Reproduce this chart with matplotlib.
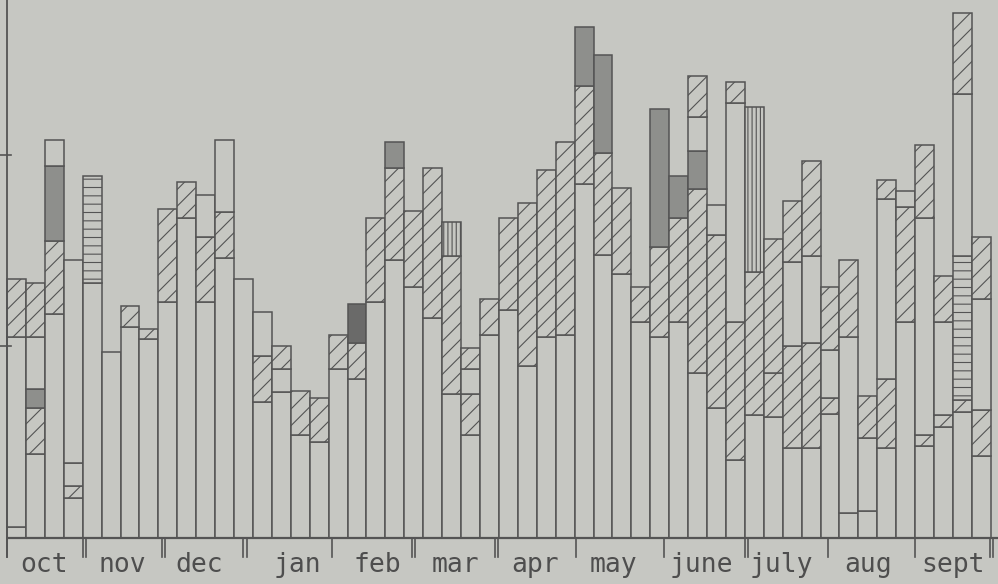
import matplotlib
matplotlib.use("Agg")
import matplotlib.pyplot as plt

# Weekly stacked records, October to September.
# Each week lists its segments bottom-to-top as (pattern, cumulative top).
# Patterns: P plain, H diagonal hatch, D stippled grey, K dark grey,
#           L horizontal rules, V vertical rules.
oct_weeks = [
    [("P", 0.6), ("P", 10.5), ("H", 13.5)],
    [("P", 4.4), ("H", 6.8), ("D", 7.8), ("P", 10.5), ("H", 13.3)],
    [("P", 11.7), ("H", 15.5), ("D", 19.4), ("P", 20.8)],
    [("P", 2.1), ("H", 2.7), ("P", 3.9), ("P", 14.5)],
]
nov_weeks = [
    [("P", 13.3), ("L", 18.9)],
    [("P", 9.7)],
    [("P", 11.0), ("H", 12.1)],
    [("P", 10.4), ("H", 10.9)],
]
dec_weeks = [
    [("P", 12.3), ("H", 17.2)],
    [("P", 16.7), ("H", 18.6)],
    [("P", 12.3), ("H", 15.7), ("P", 17.9)],
    [("P", 14.6), ("H", 17.0), ("P", 20.8)],
    [("P", 13.5)],
]
jan_weeks = [
    [("P", 7.1), ("H", 9.5), ("P", 11.8)],
    [("P", 7.6), ("P", 8.8), ("H", 10.0)],
    [("P", 5.4), ("H", 7.7)],
    [("P", 5.0), ("H", 7.3)],
]
feb_weeks = [
    [("P", 8.8), ("H", 10.6)],
    [("P", 8.3), ("H", 10.2), ("K", 12.2)],
    [("P", 12.3), ("H", 16.7)],
    [("P", 14.5), ("H", 19.3), ("D", 20.7)],
]
mar_weeks = [
    [("P", 13.1), ("H", 17.1)],
    [("P", 11.5), ("H", 19.3)],
    [("P", 7.5), ("H", 14.7), ("V", 16.5)],
    [("P", 5.4), ("H", 7.5), ("P", 8.8), ("H", 9.9)],
    [("P", 10.6), ("H", 12.5)],
]
apr_weeks = [
    [("P", 11.9), ("H", 16.7)],
    [("P", 9.0), ("H", 17.5)],
    [("P", 10.5), ("H", 19.2)],
    [("P", 10.6), ("H", 20.7)],
]
may_weeks = [
    [("P", 18.5), ("H", 23.6), ("D", 26.7)],
    [("P", 14.8), ("H", 20.1), ("D", 25.2)],
    [("P", 13.8), ("H", 18.3)],
    [("P", 11.3), ("H", 13.1)],
]
jun_weeks = [
    [("P", 10.5), ("H", 15.2), ("D", 22.4)],
    [("P", 11.3), ("H", 16.7), ("D", 18.9)],
    [("P", 8.6), ("H", 18.2), ("D", 20.2), ("P", 22.0), ("H", 24.1)],
    [("P", 6.8), ("H", 15.8), ("P", 17.4)],
    [("P", 4.1), ("H", 11.3), ("P", 22.7), ("H", 23.8)],
]
jul_weeks = [
    [("P", 6.4), ("H", 13.9), ("V", 22.5)],
    [("P", 6.3), ("H", 8.6), ("H", 15.6)],
    [("P", 4.7), ("H", 10.0), ("P", 14.4), ("H", 17.6)],
    [("P", 4.7), ("H", 10.2), ("P", 14.7), ("H", 19.7)],
    [("P", 6.5), ("H", 7.3), ("P", 9.8), ("H", 13.1)],
]
aug_weeks = [
    [("P", 1.3), ("P", 10.5), ("H", 14.5)],
    [("P", 1.4), ("P", 5.2), ("H", 7.4)],
    [("P", 4.7), ("H", 8.3), ("P", 17.7), ("H", 18.7)],
    [("P", 11.3), ("H", 17.3), ("P", 18.1)],
]
sep_weeks = [
    [("P", 4.8), ("H", 5.4), ("P", 16.7), ("H", 20.5)],
    [("P", 5.8), ("H", 6.4), ("P", 11.3), ("H", 13.7)],
    [("P", 6.6), ("H", 7.2), ("L", 14.7), ("P", 23.2), ("H", 27.4)],
    [("P", 4.3), ("H", 6.7), ("P", 12.5), ("H", 15.7)],
]

month_names = ["oct", "nov", "dec", "jan", "feb", "mar",
               "apr", "may", "june", "july", "aug", "sept"]
# month divisions on the week axis (in weeks from the start of October)
month_edges = [0.0, 4.0, 8.2, 12.5, 17.2, 21.4, 25.8, 30.1, 34.7, 39.0, 43.4, 48.0, 51.95]
double_edge = [False, True, True, True, False, True, True, False, False, True, False, False, True]
label_x = [1.96, 6.08, 10.15, 15.33, 19.56, 23.68, 27.91, 32.03, 36.68, 40.91, 45.51, 50.0]
y_ticks = [10, 20]

weeks = (oct_weeks + nov_weeks + dec_weeks + jan_weeks + feb_weeks + mar_weeks
         + apr_weeks + may_weeks + jun_weeks + jul_weeks + aug_weeks + sep_weeks)

PAPER = "#c6c7c2"
INK = "#545454"
styles = {
    "P": dict(facecolor=PAPER, hatch=None),
    "H": dict(facecolor=PAPER, hatch="//"),
    "D": dict(facecolor="#8e8f8c", hatch=None),
    "K": dict(facecolor="#6a6a69", hatch=None),
    "L": dict(facecolor=PAPER, hatch="--"),
    "V": dict(facecolor=PAPER, hatch="||||"),
}

plt.rcParams["hatch.linewidth"] = 0.8
plt.rcParams["hatch.color"] = INK

fig = plt.figure(figsize=(9.98, 5.84), dpi=100, facecolor=PAPER)
ax = fig.add_axes([0, 0, 1, 1])
ax.set_facecolor(PAPER)
ax.set_xlim(-0.37, 52.38)
ax.set_ylim(-2.40, 28.09)
ax.axis("off")

for i, week in enumerate(weeks):
    bottom = 0.0
    for pattern, top in week:
        st = styles[pattern]
        ax.bar(i, top - bottom, bottom=bottom, width=1.0, align="edge",
               facecolor=st["facecolor"], hatch=st["hatch"],
               edgecolor=INK, linewidth=1.1, zorder=2)
        bottom = top

# axes: baseline, vertical scale line and its ticks
ax.plot([0, 52.38], [0, 0], color=INK, lw=1.6, zorder=3, solid_capstyle="butt")
ax.plot([0, 0], [-1.0, 28.09], color=INK, lw=1.3, zorder=3)
for t in y_ticks:
    ax.plot([-0.37, 0.22], [t, t], color=INK, lw=1.2, zorder=3)

# month division marks below the baseline
for xe, dbl in zip(month_edges, double_edge):
    ax.plot([xe, xe], [0, -1.0], color=INK, lw=1.2, zorder=3)
    if dbl:
        ax.plot([xe + 0.17, xe + 0.17], [0, -1.0], color=INK, lw=1.2, zorder=3)

for name, xc in zip(month_names, label_x):
    ax.text(xc, -1.78, name, ha="center", va="baseline",
            fontsize=19, family="DejaVu Sans Mono", color="#4e4e4e")

fig.savefig("out.png", dpi=100, facecolor=PAPER)
